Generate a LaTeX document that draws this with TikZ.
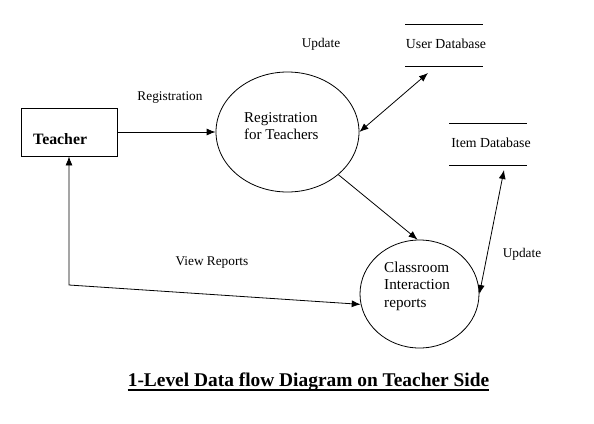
\documentclass[tikz,border=0pt]{standalone}
\usepackage{fontspec}
\setmainfont{Liberation Serif}
\usetikzlibrary{arrows.meta,shapes.geometric}
\begin{document}
\begin{tikzpicture}[x=1pt,y=-1pt,
  flow/.style={line width=0.8pt,-{Latex[length=9pt,width=7pt]}},
  biflow/.style={line width=0.8pt,{Latex[length=9pt,width=7pt]}-{Latex[length=9pt,width=7pt]}},
  lbl/.style={font=\fontsize{13.3}{15}\selectfont,inner sep=0pt},
  dbtext/.style={font=\fontsize{13.8}{15}\selectfont,inner sep=0pt},
  dbline/.style={line width=0.8pt},
  proc/.style={draw,ellipse,line width=0.8pt,inner sep=0pt},
  proctext/.style={font=\fontsize{15}{17}\selectfont,align=left,inner sep=0pt,anchor=west}]
\useasboundingbox (0,0) rectangle (594,423);
% external entity
\node[draw,line width=0.9pt,minimum width=96pt,minimum height=48pt,inner sep=0pt] (t) at (69,132) {};
\node[font=\fontsize{15.8}{18}\selectfont\bfseries,inner sep=0pt,anchor=west] (tt) at (33,139) {Teacher};
% processes
\node[proc,minimum width=143pt,minimum height=120pt] (r1) at (287.5,132) {};
\node[proctext] (r1t) at (244,126) {Registration\\for Teachers};
\node[proc,minimum width=119pt,minimum height=108pt] (c2) at (419.5,294) {};
\node[proctext,font=\fontsize{15.2}{17.5}\selectfont] (c2t) at (384,286) {Classroom\\Interaction\\reports};
% data stores
\node[dbtext] (udb) at (446,44) {User Database};
\draw[dbline] (405,24) -- (483,24);
\draw[dbline] (405,66) -- (483,66);
\coordinate (udbin) at (428,73);
\node[dbtext] (idb) at (491,143) {Item Database};
\draw[dbline] (449,123) -- (527,123);
\draw[dbline] (449,165) -- (527,165);
\coordinate (idbin) at (504,170);
% flows
\draw[flow] (t.east) -- (r1.west);
\draw[biflow] (r1.east) -- (udbin);
\draw[flow] (r1.-40) -- (c2.92);
\draw[biflow] (idbin) -- (c2.east);
\coordinate (corner) at (69,285);
\draw[biflow] (t.south) -- (corner) -- (c2.190);
% labels
\node[lbl] (l1) at (170,98) {Registration};
\node[lbl] (l2) at (321,44) {Update};
\node[lbl] (l3) at (212,263) {View Reports};
\node[lbl] (l4) at (522,254) {Update};
% title
\node[font=\fontsize{19.4}{22}\selectfont\bfseries,inner sep=0pt] (title) at (308.5,382) {1-Level Data flow Diagram on Teacher Side};
\draw[line width=1.2pt] (title.base west |- 0,390) -- (title.base east |- 0,390);
\end{tikzpicture}
\end{document}
